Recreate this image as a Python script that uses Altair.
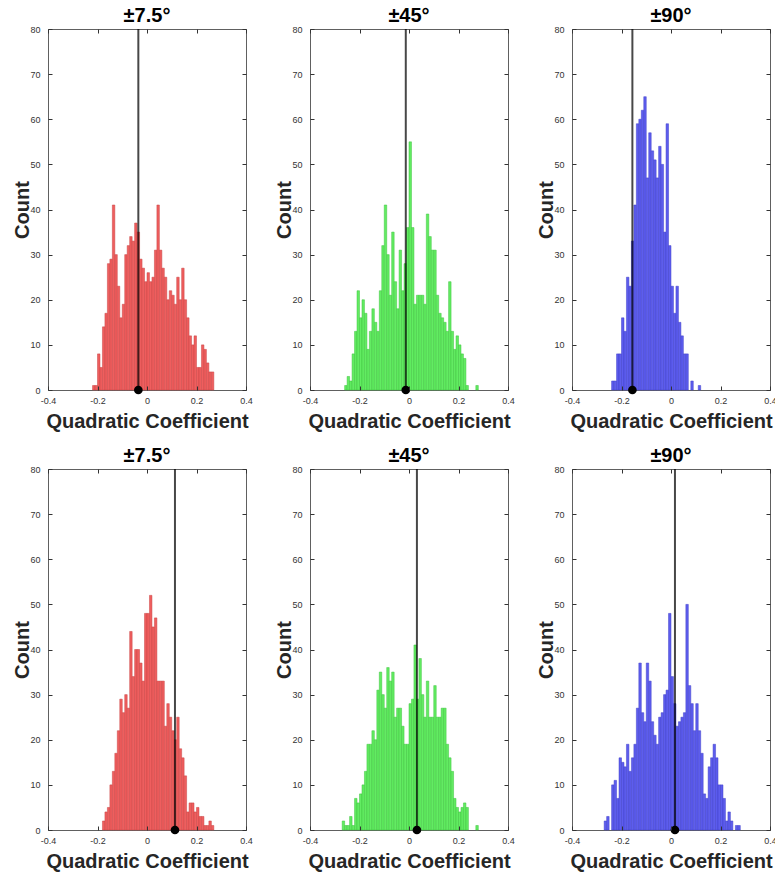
import altair as alt
import pandas as pd

# ---------------- data ----------------
BIN_WIDTH = 0.01
X_TICKS = [-0.4, -0.2, 0, 0.2, 0.4]
Y_TICKS = [0, 10, 20, 30, 40, 50, 60, 70, 80]
X_DOMAIN = [-0.4, 0.4]
Y_DOMAIN = [0, 80]

titles = ["±7.5°", "±45°", "±90°", "±7.5°", "±45°", "±90°"]
first_bin = [-0.22, -0.26, -0.24, -0.18, -0.27, -0.27]
means = [-0.035, -0.013, -0.156, 0.113, 0.032, 0.016]

counts_top_75 = [1, 1, 8, 5, 14, 17, 28, 29, 41, 30, 23, 16, 19, 30, 32, 34, 33, 37, 35,
                 29, 27, 24, 26, 24, 25, 31, 41, 31, 27, 25, 20, 22, 21, 19, 25, 20, 27,
                 20, 16, 12, 10, 12, 5, 5, 10, 9, 6, 4, 4]
counts_top_45 = [1, 3, 2, 8, 13, 22, 16, 20, 17, 9, 13, 18, 15, 13, 22, 32, 41, 30, 21, 35,
                 24, 18, 31, 22, 28, 36, 55, 36, 19, 21, 21, 21, 19, 39, 34, 31, 31, 21, 17,
                 16, 15, 13, 24, 13, 9, 12, 10, 8, 7, 1, 0, 0, 0, 1]
counts_top_90 = [2, 2, 8, 8, 16, 13, 25, 23, 33, 41, 59, 60, 62, 65, 47, 57, 53, 51, 47, 54,
                 50, 35, 59, 32, 23, 17, 23, 15, 12, 8, 8, 0, 2, 0, 0, 1]
counts_bot_75 = [2, 4, 5, 10, 13, 17, 22, 29, 26, 30, 27, 44, 34, 40, 40, 37, 33, 48, 48, 52,
                 45, 47, 33, 33, 33, 23, 28, 25, 22, 20, 25, 18, 16, 12, 4, 6, 6, 4, 5, 3,
                 3, 1, 1, 2, 1]
counts_bot_45 = [2, 1, 1, 3, 1, 7, 6, 8, 10, 13, 19, 19, 22, 20, 31, 35, 30, 27, 36, 33,
                 35, 25, 27, 27, 23, 19, 19, 28, 29, 41, 29, 38, 30, 25, 33, 25, 25, 32, 25,
                 25, 27, 27, 19, 16, 13, 7, 5, 4, 5, 6, 5, 0, 0, 0, 1]
counts_bot_90 = [2, 3, 0, 10, 11, 7, 16, 15, 14, 19, 13, 16, 19, 27, 37, 26, 24, 37, 33, 24,
                 21, 19, 25, 26, 30, 31, 48, 34, 28, 23, 24, 25, 26, 50, 32, 28, 22, 28, 22,
                 17, 8, 7, 14, 16, 19, 16, 10, 10, 7, 2, 4, 2, 0, 1, 1]
all_counts = [counts_top_75, counts_top_45, counts_top_90,
              counts_bot_75, counts_bot_45, counts_bot_90]

# ---------------- styling ----------------
FILLS = ["#EF5E5E", "#62EC62", "#5D5DEE"] * 2
EDGES = ["#C94545", "#3FC23F", "#4040C8"] * 2
W, H = 198, 361
FONT = "Liberation Sans"

xs = alt.Scale(domain=X_DOMAIN, nice=False, zero=False)
ys = alt.Scale(domain=Y_DOMAIN, nice=False)


def tick_axis(orient, offset, values):
    return alt.Axis(orient=orient, offset=offset, values=values, labels=False,
                    ticks=True, tickSize=4, tickColor="#333333", tickWidth=1,
                    domain=False, grid=False, title=None, zindex=1,
                    minExtent=0, maxExtent=0)


def panel(i):
    counts = all_counts[i]
    lo = [round(first_bin[i] + k * BIN_WIDTH, 4) for k in range(len(counts))]
    df = pd.DataFrame({"lo": lo, "count": counts})
    df["hi"] = df["lo"] + BIN_WIDTH
    df = df[df["count"] > 0]

    x_lab = alt.Axis(orient="bottom", values=X_TICKS, labelExpr="'' + datum.value",
                     ticks=False, domain=False, grid=False, labelPadding=6,
                     labelFontSize=9, labelColor="#333333", labelFlush=False,
                     title="Quadratic Coefficient", titleFontSize=20,
                     titleFontWeight="bold", titleColor="#262626",
                     titleY=31, titleBaseline="middle")
    y_lab = alt.Axis(orient="left", values=Y_TICKS, labelExpr="'' + datum.value",
                     ticks=False, domain=False, grid=False, labelPadding=8,
                     labelFontSize=9, labelColor="#333333", labelFlush=False,
                     title="Count", titleFontSize=20, titleFontWeight="bold",
                     titleColor="#262626", titleX=-26, titleBaseline="middle")

    bars = alt.Chart(df).mark_rect(fill=FILLS[i], stroke=EDGES[i], strokeWidth=0.5).encode(
        x=alt.X("lo:Q", scale=xs, axis=x_lab),
        x2="hi:Q",
        y=alt.Y("count:Q", scale=ys, axis=y_lab),
        y2=alt.Y2Datum(0),
    )
    mdf = pd.DataFrame({"m": [means[i]]})
    rule = alt.Chart(mdf).mark_rule(color="black", opacity=0.72, strokeWidth=2).encode(
        x=alt.X("m:Q", scale=xs, axis=tick_axis("top", -H, X_TICKS)),
        y=alt.YDatum(0, scale=ys, axis=tick_axis("right", -W, Y_TICKS)),
        y2=alt.Y2Datum(80),
    )
    dot = alt.Chart(mdf).mark_circle(size=75, color="black", opacity=1).encode(
        x=alt.X("m:Q", scale=xs, axis=tick_axis("bottom", -H, X_TICKS)),
        y=alt.YDatum(0, scale=ys, axis=tick_axis("left", -W, Y_TICKS)),
    )
    return alt.layer(bars, rule, dot).resolve_axis(
        x="independent", y="independent"
    ).properties(
        width=W, height=H,
        title=alt.TitleParams(titles[i], fontSize=20, fontWeight="bold", font=FONT,
                              color="black", offset=-17, frame="group",
                              baseline="alphabetic", anchor="middle"),
    )


chart = alt.concat(*[panel(i) for i in range(6)], columns=3,
                   spacing={"row": 79, "column": 64}, bounds="flush").properties(
    autosize=alt.AutoSizeParams(type="none"),
    padding={"left": 48, "top": 29, "right": 727, "bottom": 849},
).configure(font=FONT).configure_view(stroke="#606060", strokeWidth=1)

chart.save("out.html", embed_options={"renderer": "svg", "actions": False})
